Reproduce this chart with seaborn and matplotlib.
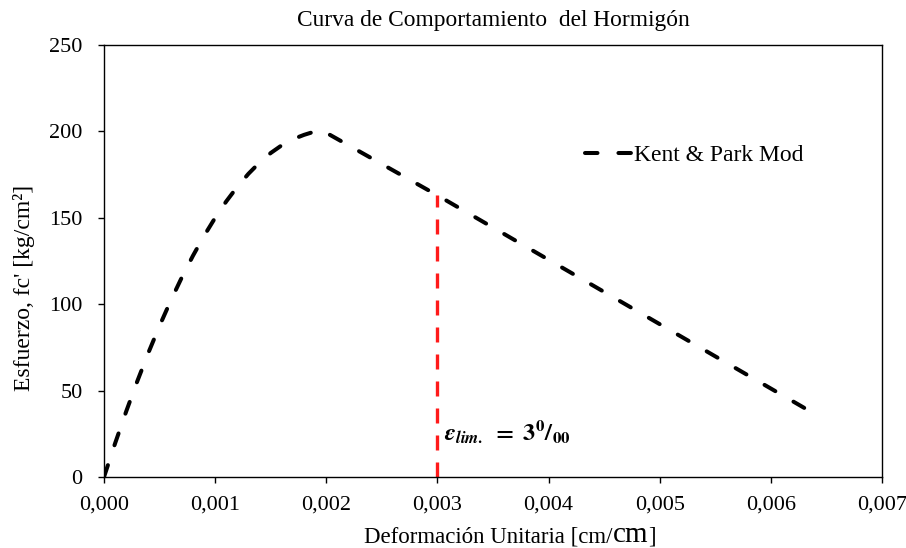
import matplotlib
matplotlib.use("Agg")
import matplotlib.pyplot as plt
import seaborn as sns
import pandas as pd
from matplotlib.offsetbox import TextArea, HPacker, AnchoredOffsetbox

# Data
strain = [0.0, 0.0001, 0.0002, 0.0003, 0.0004, 0.0005, 0.0006, 0.0007, 0.0008, 0.0009,
          0.0010, 0.0011, 0.0012, 0.0013, 0.0014, 0.0015, 0.0016, 0.0017, 0.0018, 0.0019,
          0.00195, 0.003, 0.0063]
stress = [0.0, 19.5, 38.0, 55.5, 72.0, 87.5, 102.0, 115.5, 128.0, 139.5,
          150.0, 159.5, 168.0, 175.5, 182.0, 187.5, 192.0, 195.5, 198.0, 200.0,
          201.0, 163.0, 40.0]
series_name = "Kent & Park Mod"
limit_strain = [0.003, 0.003]
limit_stress = [0.0, 163.0]
x_ticks = [0.000, 0.001, 0.002, 0.003, 0.004, 0.005, 0.006, 0.007]
x_tick_labels = ["0,000", "0,001", "0,002", "0,003", "0,004", "0,005", "0,006", "0,007"]
y_ticks = [0, 50, 100, 150, 200, 250]

sns.set_theme(style="white")
plt.rcParams['font.family'] = ['Liberation Serif', 'DejaVu Serif']
plt.rcParams['mathtext.fontset'] = 'stix'
plt.rcParams['text.color'] = 'black'
plt.rcParams['axes.labelcolor'] = 'black'
plt.rcParams['xtick.color'] = 'black'
plt.rcParams['ytick.color'] = 'black'

df = pd.DataFrame({"strain": strain, "stress": stress, "serie": series_name})

fig = plt.figure(figsize=(9.06, 5.48), dpi=100)
ax = fig.add_axes([104/906, 1 - 477/548, (882-104)/906, (477-45)/548])

BLACK_DASH = (3.1, 5.2)
sns.lineplot(data=df, x="strain", y="stress", hue="serie", palette=["black"],
             ax=ax, linewidth=2.9, sort=False, estimator=None)
line = ax.get_lines()[0]
line.set_dashes(BLACK_DASH)
line.set_dash_capstyle('round')

ax.plot(limit_strain, limit_stress, color="#FF1A1A", linewidth=2.4, dashes=(4.5, 3.6))

ax.set_xlim(0, 0.007)
ax.set_ylim(0, 250)
ax.set_xticks(x_ticks)
ax.set_xticklabels(x_tick_labels)
ax.set_yticks(y_ticks)
ax.tick_params(axis='both', which='both', direction='out', length=4.5, width=1,
               colors='black', labelsize=16, bottom=True, left=True)
ax.tick_params(axis='y', pad=11)
ax.tick_params(axis='x', pad=9)
for s in ax.spines.values():
    s.set_color('black')
    s.set_linewidth(1.0)

ax.set_title("Curva de Comportamiento  del Hormigón", fontsize=16.8, pad=14, color='black')
ax.set_ylabel("Esfuerzo, fc' [kg/cm²]", fontsize=17)
ax.yaxis.set_label_coords(-0.089, 0.4375)
ax.set_xlabel("")

# x label with larger trailing "cm"
t1 = TextArea("Deformación Unitaria [cm/", textprops=dict(fontsize=16.5, family='Liberation Serif', color='black'))
t2 = TextArea("cm", textprops=dict(fontsize=21, family='Liberation Serif', color='black'))
t3 = TextArea("]", textprops=dict(fontsize=16.5, family='Liberation Serif', color='black'))
box = HPacker(children=[t1, t2, t3], align="baseline", pad=0, sep=0)
anch = AnchoredOffsetbox(loc='center', child=box, pad=0, frameon=False,
                         bbox_to_anchor=(510/906, 1 - 535/548), bbox_transform=fig.transFigure,
                         borderpad=0)
fig.add_artist(anch)

ax.text(0.00306, 26, r"$\mathbfit{\varepsilon_{lim.}}\ \mathbf{=}\ \mathbf{3^{0}/_{00}}$",
        fontsize=17.5, color='black', ha='left', va='center')

leg = ax.legend(loc='center left', bbox_to_anchor=(0.618, 0.745), frameon=False,
                fontsize=17, handlelength=2.03, handletextpad=0.05, borderpad=0,
                borderaxespad=0)
for h in leg.legend_handles:
    h.set_dashes(BLACK_DASH)
    h.set_linewidth(2.9)
    h.set_dash_capstyle('round')

fig.savefig("out.png", dpi=100)
